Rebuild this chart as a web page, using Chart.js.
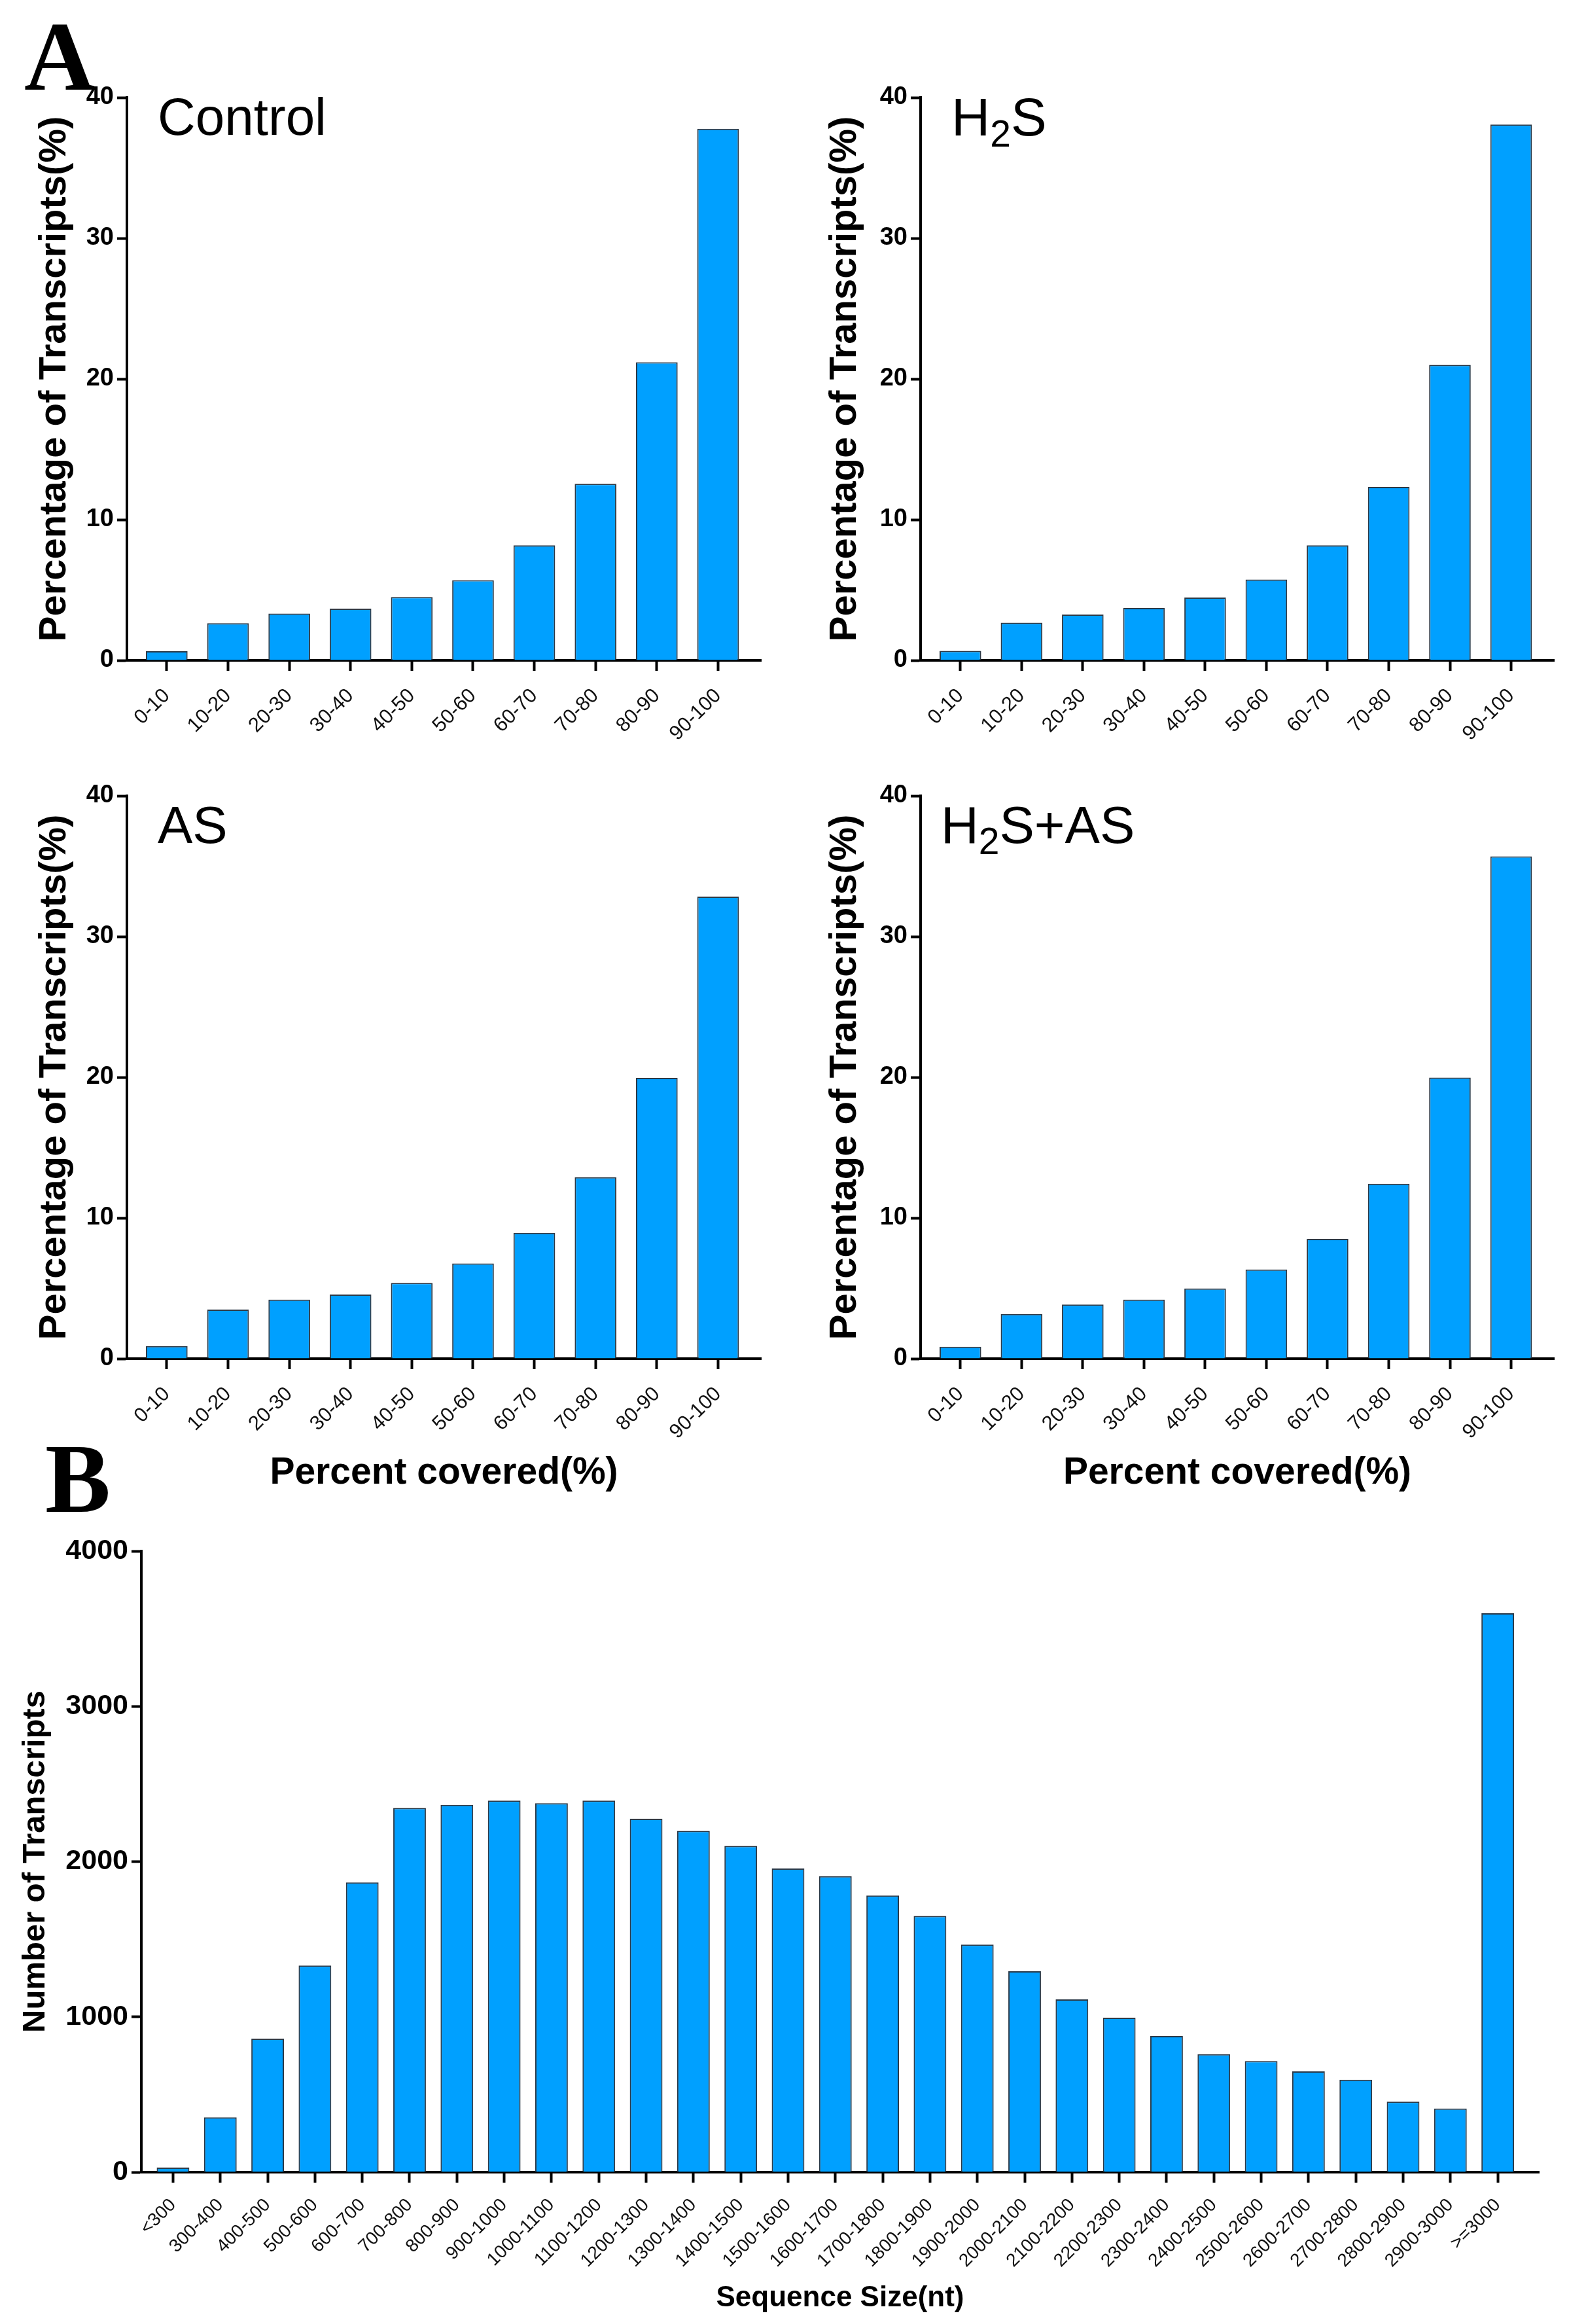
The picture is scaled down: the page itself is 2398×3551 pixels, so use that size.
<!DOCTYPE html>
<html>
<head>
<meta charset="utf-8">
<script src="https://cdn.jsdelivr.net/npm/chart.js@4.4.1/dist/chart.umd.min.js"></script>
<style>
  body { margin: 0; background: #fff; }
  #page { position: relative; width: 2398px; height: 3551px; background: #fff; overflow: hidden; }
  .box { position: absolute; }
  .lbl { position: absolute; font-family: "Liberation Sans", Arial, sans-serif; color: #000; line-height: 1; white-space: nowrap; }
  .panel { position: absolute; font-family: "Liberation Serif", "Times New Roman", serif; font-weight: bold; color: #000; line-height: 1; }
  .sub { font-size: 57px; position: relative; top: 17px; }
</style>
</head>
<body>
<div id="page">
  <div class="box" style="left:0;top:0;width:1200px;height:1160px"><canvas id="cControl"></canvas></div>
  <div class="box" style="left:1200px;top:0;width:1198px;height:1160px"><canvas id="cH2S"></canvas></div>
  <div class="box" style="left:0;top:1120px;width:1200px;height:1230px"><canvas id="cAS"></canvas></div>
  <div class="box" style="left:1200px;top:1120px;width:1198px;height:1230px"><canvas id="cH2SAS"></canvas></div>
  <div class="box" style="left:0;top:2330px;width:2398px;height:1221px"><canvas id="cSize"></canvas></div>

  <div class="panel" style="left:37px;top:11px;font-size:150px">A</div>
  <div class="panel" style="left:69px;top:2184px;font-size:150px">B</div>
  <div class="lbl" style="left:241px;top:139px;font-size:80px">Control</div>
  <div class="lbl" style="left:1454px;top:138px;font-size:82px">H<span class="sub">2</span>S</div>
  <div class="lbl" style="left:241px;top:1221px;font-size:80px">AS</div>
  <div class="lbl" style="left:1438px;top:1221px;font-size:80px">H<span class="sub">2</span>S+AS</div>
</div>
<script>
Chart.defaults.font.family = '"Liberation Sans", Arial, sans-serif';
Chart.defaults.color = '#000';

// coverage bins (panel A)
const coverLabels = ['0-10', '10-20', '20-30', '30-40', '40-50', '50-60', '60-70', '70-80', '80-90', '90-100'];
const controlPct = [0.65, 2.64, 3.33, 3.68, 4.5, 5.7, 8.18, 12.55, 21.19, 37.78];
const h2sPct = [0.68, 2.67, 3.26, 3.72, 4.47, 5.74, 8.18, 12.32, 21.0, 38.08];
const asPct = [0.89, 3.49, 4.2, 4.56, 5.38, 6.77, 8.94, 12.89, 19.95, 32.84];
const h2sAsPct = [0.85, 3.17, 3.85, 4.2, 4.99, 6.34, 8.51, 12.43, 19.98, 35.7];
const pctTicks = [0, 10, 20, 30, 40];

// sequence size bins (panel B)
const sizeLabels = ['<300', '300-400', '400-500', '500-600', '600-700', '700-800', '800-900', '900-1000',
    '1000-1100', '1100-1200', '1200-1300', '1300-1400', '1400-1500', '1500-1600', '1600-1700',
    '1700-1800', '1800-1900', '1900-2000', '2000-2100', '2100-2200', '2200-2300', '2300-2400',
    '2400-2500', '2500-2600', '2600-2700', '2700-2800', '2800-2900', '2900-3000', '>=3000'];
const sizeCounts = [30, 353, 860, 1331, 1866, 2346, 2366, 2393, 2376, 2393, 2276, 2198, 2101, 1956, 1906,
    1782, 1650, 1466, 1294, 1113, 995, 877, 760, 716, 649, 595, 454, 410, 3600];
const countTicks = [0, 1000, 2000, 3000, 4000];

function barChart(canvasId, labels, values, yTicks, o) {
    const points = values.map((v, i) => ({ x: i, y: v }));
    return new Chart(document.getElementById(canvasId), {
        type: 'bar',
        data: {
            datasets: [{
                data: points,
                backgroundColor: '#00A0FF',
                borderColor: '#2B3947',
                borderWidth: 2,
                categoryPercentage: 1,
                barPercentage: o.barPct
            }]
        },
        options: {
            responsive: true,
            maintainAspectRatio: false,
            animation: false,
            layout: { padding: { left: 0, top: o.padTop, right: o.padRight, bottom: 0 } },
            plugins: { legend: { display: false }, tooltip: { enabled: false } },
            scales: {
                x: {
                    type: 'linear',
                    offset: false,
                    min: o.xMin,
                    max: o.xMax,
                    afterBuildTicks: axis => { axis.ticks = labels.map((_, i) => ({ value: i })); },
                    afterFit: axis => { axis.height = o.xHeight; },
                    ticks: {
                        autoSkip: false,
                        minRotation: 45,
                        maxRotation: 45,
                        padding: o.xPad,
                        color: '#111',
                        font: { size: o.xFont },
                        callback: v => labels[v]
                    },
                    grid: { offset: false, drawOnChartArea: false, drawTicks: true, tickLength: 16, tickWidth: 4, color: '#000' },
                    border: { display: true, width: 4, color: '#000' },
                    title: {
                        display: !!o.xTitle,
                        text: o.xTitle || '',
                        color: '#000',
                        font: { size: o.xTitleSize, weight: 'bold', lineHeight: 1 },
                        padding: { top: 0, bottom: o.xTitlePad }
                    }
                },
                y: {
                    min: 0,
                    max: yTicks[yTicks.length - 1],
                    afterBuildTicks: axis => { axis.ticks = yTicks.map(v => ({ value: v })); },
                    afterFit: axis => { axis.width = o.yWidth; },
                    ticks: { padding: 5, color: '#000', font: { size: o.yFont, weight: 'bold' }, callback: v => String(v) },
                    grid: { drawOnChartArea: false, drawTicks: true, tickLength: 15, tickWidth: 4, color: '#000' },
                    border: { display: true, width: 4, color: '#000' },
                    title: {
                        display: true,
                        text: o.yTitle,
                        color: '#000',
                        font: { size: o.yTitleSize, weight: 'bold', lineHeight: 1 },
                        padding: { top: o.yTitlePad, bottom: 0 }
                    }
                }
            }
        }
    });
}

const pctTitle = 'Percentage of Transcripts(%)';
const coverOpts = { barPct: 0.68, xMin: -0.65, xMax: 9.7, xFont: 31, xPad: 20, yFont: 38, yTitle: pctTitle, yTitleSize: 58 };

barChart('cControl', coverLabels, controlPct, pctTicks,
    Object.assign({}, coverOpts, { padTop: 149, padRight: 37, yWidth: 194, xHeight: 151, yTitlePad: 55 }));
barChart('cH2S', coverLabels, h2sPct, pctTicks,
    Object.assign({}, coverOpts, { padTop: 149, padRight: 23, yWidth: 207, xHeight: 151, yTitlePad: 63 }));
barChart('cAS', coverLabels, asPct, pctTicks,
    Object.assign({}, coverOpts, { padTop: 96, padRight: 37, yWidth: 194, xHeight: 274, yTitlePad: 55,
        xTitle: 'Percent covered(%)', xTitleSize: 57, xTitlePad: 70 }));
barChart('cH2SAS', coverLabels, h2sAsPct, pctTicks,
    Object.assign({}, coverOpts, { padTop: 96, padRight: 23, yWidth: 207, xHeight: 274, yTitlePad: 63,
        xTitle: 'Percent covered(%)', xTitleSize: 57, xTitlePad: 70 }));

barChart('cSize', sizeLabels, sizeCounts, countTicks, {
    barPct: 0.69, xMin: -0.67, xMax: 28.87, xFont: 28, xPad: 18, yFont: 43,
    padTop: 40, padRight: 46, yWidth: 216, xHeight: 232,
    yTitle: 'Number of Transcripts', yTitleSize: 49, yTitlePad: 30,
    xTitle: 'Sequence Size(nt)', xTitleSize: 44, xTitlePad: 17
});
</script>
</body>
</html>
